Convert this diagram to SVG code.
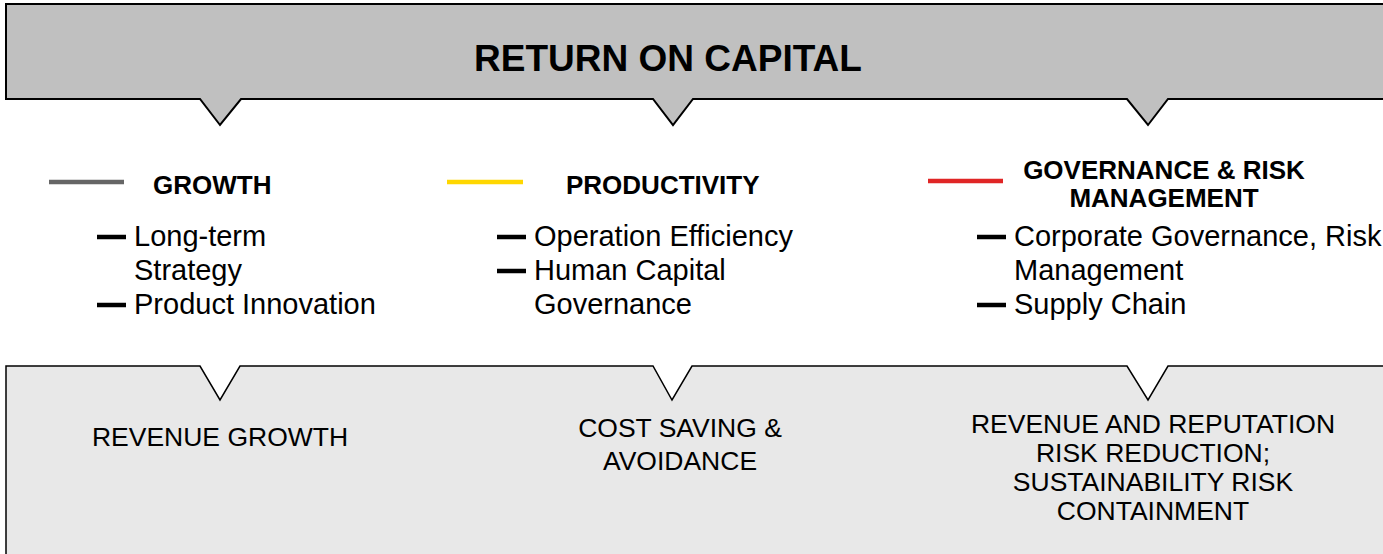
<svg xmlns="http://www.w3.org/2000/svg" width="1383" height="554" viewBox="0 0 1383 554">
  <style>
    text { font-family: "Liberation Sans", Arial, sans-serif; fill: #000; }
    .title { font-size: 37px; font-weight: bold; }
    .head { font-size: 26px; font-weight: bold; }
    .body { font-size: 29px; }
    .out { font-size: 26.5px; }
    .dash { stroke: #000; stroke-width: 4.5; }
    .leg { stroke-width: 4.5; }
  </style>
  <rect width="1383" height="554" fill="#ffffff"/>
  <g id="return-on-capital">
    <path d="M6,4 H1392 V99 H1168 L1148,125 L1127,99 H693 L673,125 L653,99 H241 L220,125 L200,99 H6 Z" fill="#c0c0c0" stroke="#000" stroke-width="2"/>
    <text class="title" x="668" y="71" text-anchor="middle">RETURN ON CAPITAL</text>
  </g>
  <g id="growth">
    <line class="leg" x1="49" y1="182" x2="124" y2="182" stroke="#666666"/>
    <text class="head" x="153" y="194">GROWTH</text>
    <line class="dash" x1="97" y1="237" x2="126" y2="237"/>
    <text class="body" x="134" y="246">Long-term</text>
    <text class="body" x="134" y="280">Strategy</text>
    <line class="dash" x1="97" y1="305" x2="126" y2="305"/>
    <text class="body" x="134" y="314">Product Innovation</text>
  </g>
  <g id="productivity">
    <line class="leg" x1="447" y1="182" x2="523" y2="182" stroke="#ffd700"/>
    <text class="head" x="566" y="194">PRODUCTIVITY</text>
    <line class="dash" x1="497" y1="237" x2="526" y2="237"/>
    <text class="body" x="534" y="246">Operation Efficiency</text>
    <line class="dash" x1="497" y1="271" x2="526" y2="271"/>
    <text class="body" x="534" y="280">Human Capital</text>
    <text class="body" x="534" y="314">Governance</text>
  </g>
  <g id="governance-risk">
    <line class="leg" x1="928" y1="181" x2="1003" y2="181" stroke="#e02525"/>
    <text class="head" x="1164" y="179" text-anchor="middle">GOVERNANCE &amp; RISK</text>
    <text class="head" x="1164" y="207" text-anchor="middle">MANAGEMENT</text>
    <line class="dash" x1="977" y1="237" x2="1006" y2="237"/>
    <text class="body" x="1014" y="246">Corporate Governance, Risk</text>
    <text class="body" x="1014" y="280">Management</text>
    <line class="dash" x1="977" y1="305" x2="1006" y2="305"/>
    <text class="body" x="1014" y="314">Supply Chain</text>
  </g>
  <g id="outcomes">
    <path d="M6,366 H200 L220,400 L240,366 H653 L672,400 L692,366 H1127 L1148,400 L1168,366 H1392 V560 H6 Z" fill="#e8e8e8" stroke="#000" stroke-width="1.5"/>
    <text class="out" x="220" y="446" text-anchor="middle">REVENUE GROWTH</text>
    <text class="out" x="680" y="437" text-anchor="middle">COST SAVING &amp;</text>
    <text class="out" x="680" y="470" text-anchor="middle">AVOIDANCE</text>
    <text class="out" x="1153" y="433" text-anchor="middle">REVENUE AND REPUTATION</text>
    <text class="out" x="1153" y="462" text-anchor="middle">RISK REDUCTION;</text>
    <text class="out" x="1153" y="491" text-anchor="middle">SUSTAINABILITY RISK</text>
    <text class="out" x="1153" y="520" text-anchor="middle">CONTAINMENT</text>
  </g>
  <g id="connectors"></g>
</svg>
